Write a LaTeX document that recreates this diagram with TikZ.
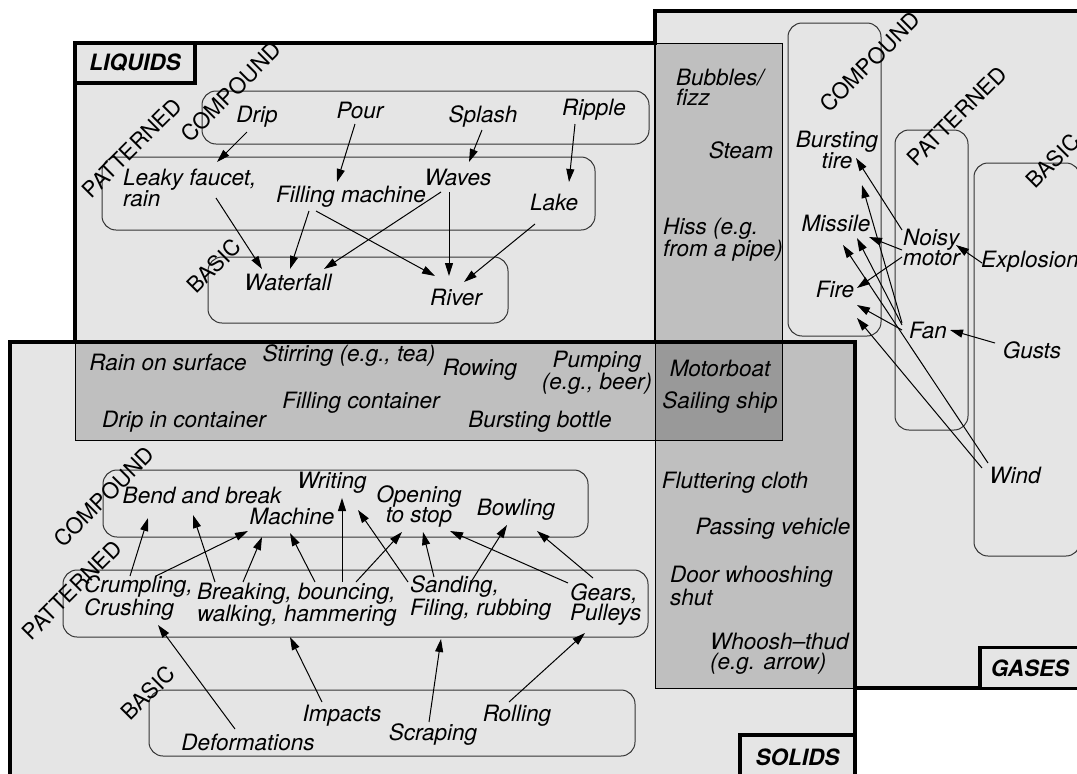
\documentclass[tikz,border=0pt]{standalone}
\usepackage{fontspec}
\setmainfont{TeX Gyre Heros}
\usetikzlibrary{arrows.meta}
\definecolor{areagray}{gray}{0.9}
\definecolor{bandgray}{gray}{0.75}
\definecolor{meetgray}{gray}{0.6}

\begin{document}
\begin{tikzpicture}[x=1pt,y=-1pt,
  item/.style={inner sep=0pt,font=\itshape\fontsize{22.5}{20}\selectfont},
  lvl/.style={inner sep=0pt,rotate=45,font=\fontsize{22}{22}\selectfont},
  grp/.style={draw=black!80,line width=1pt,rounded corners=14pt},
  realm/.style={draw,line width=3.5pt,fill=areagray,inner sep=0pt,font=\bfseries\itshape\fontsize{22.5}{22}\selectfont},
  arr/.style={-{Triangle[length=13pt,width=8pt]},line width=1pt},
  rim/.style={line width=4pt}]
\useasboundingbox (0,0) rectangle (1077,774);
\clip (0,0) rectangle (1077,774);

% areas
\fill[areagray] (655,11) rectangle (1090,688);
\fill[areagray] (75,43) rectangle (782,440);
\fill[areagray] (10,342) rectangle (855,790);
% overlaps
\filldraw[fill=bandgray,line width=1pt] (655,43) -- (782,43) -- (782,342) -- (855,342) -- (855,688) -- (655,688) -- cycle;
\filldraw[fill=bandgray,line width=1pt] (75,342) rectangle (782,440);
\filldraw[fill=meetgray,line width=1pt] (655,342) rectangle (782,440);
% outlines
\draw[rim] (655,43) -- (75,43) -- (75,342);
\draw[rim] (655,45) -- (655,11) -- (1090,11);
\draw[line width=2pt] (655,43) -- (655,342);
\draw[rim] (855,688) -- (1090,688);
\draw[rim] (10,790) -- (10,342) -- (855,342) -- (855,790);

% level boxes
\draw[grp] (202,91) rectangle (649,144);
\draw[grp] (102,157) rectangle (595,230);
\draw[grp] (208,257) rectangle (508,323);
\draw[grp] (788,23) rectangle (881,336);
\draw[grp] (895,130) rectangle (968,430);
\draw[grp] (974,163) rectangle (1080,556);
\draw[grp] (103,470) rectangle (588,537);
\draw[grp] (63,570) rectangle (648,637);
\draw[grp] (149,690) rectangle (635,756);

\node[lvl] (liqc) at (231,92) {COMPOUND};
\node[lvl] (liqp) at (132,148) {PATTERNED};
\node[lvl] (liqb) at (214,266) {BASIC};
\node[lvl] (gasc) at (870,62) {COMPOUND};
\node[lvl] (gasp) at (957,116) {PATTERNED};
\node[lvl] (gasb) at (1053,161) {BASIC};
\node[lvl] (solc) at (104,497) {COMPOUND};
\node[lvl] (solp) at (72,590) {PATTERNED};
\node[lvl] (solb) at (148,693) {BASIC};

% liquids
\node[item] (drip) at (257,117) {Drip};
\node[item] (pour) at (360,110) {Pour};
\node[item] (splash) at (483,116) {Splash};
\node[item] (ripple) at (594,110) {Ripple};
\node[item,align=left,anchor=west] (leaky) at (123,188) {Leaky faucet,\\rain};
\node[item] (fillm) at (351,197) {Filling machine};
\node[item] (waves) at (458,177) {Waves};
\node[item] (lake) at (554,202) {Lake};
\node[item] (fall) at (288,282) {Waterfall};
\node[item] (river) at (456,297) {River};

\draw[arr] ([shift={(-10,15)}]drip.center) -- ([shift={(94,-26)}]leaky.west);
\draw[arr] ([shift={(-5,14)}]pour.center) -- ([shift={(-14,-15)}]fillm.center);
\draw[arr] ([shift={(-1,14)}]splash.center) -- ([shift={(11,-15)}]waves.center);
\draw[arr] ([shift={(-19,14)}]ripple.center) -- ([shift={(15,-20)}]lake.center);
\draw[arr] ([shift={(93,10)}]leaky.west) -- ([shift={(-26,-13)}]fall.center);
\draw[arr] ([shift={(-42,14)}]fillm.center) -- ([shift={(2,-13)}]fall.center);
\draw[arr] ([shift={(-35,14)}]fillm.center) -- ([shift={(-21,-21)}]river.center);
\draw[arr] ([shift={(-17,15)}]waves.center) -- ([shift={(36,-13)}]fall.center);
\draw[arr] ([shift={(-9,15)}]waves.center) -- ([shift={(-7,-21)}]river.center);
\draw[arr] ([shift={(-19,22)}]lake.center) -- ([shift={(8,-15)}]river.center);

% gases
\node[item,align=center] (tire) at (837,150) {Bursting\\tire};
\node[item] (missile) at (836,223) {Missile};
\node[item] (fire) at (835,289) {Fire};
\node[item,align=left,anchor=west] (noisy) at (903,247) {Noisy\\motor};
\node[item] (explo) at (1030,262) {Explosion};
\node[item] (fan) at (928,330) {Fan};
\node[item] (gusts) at (1032,350) {Gusts};
\node[item] (wind) at (1015,475) {Wind};

\draw[arr] ([shift={(-1,-17)}]noisy.west) -- ([shift={(19,8)}]tire.center);
\draw[arr] ([shift={(-1,3)}]noisy.west) -- ([shift={(33,14)}]missile.center);
\draw[arr] ([shift={(-1,10)}]noisy.west) -- ([shift={(22,-1)}]fire.center);
\draw[arr] ([shift={(-48,1)}]explo.center) -- ([shift={(53,-2)}]noisy.west);
\draw[arr] ([shift={(-26,-7)}]fan.center) -- ([shift={(25,35)}]tire.center);
\draw[arr] ([shift={(-26,-5)}]fan.center) -- ([shift={(21,15)}]missile.center);
\draw[arr] ([shift={(-26,0)}]fan.center) -- ([shift={(22,16)}]fire.center);
\draw[arr] ([shift={(-37,-7)}]gusts.center) -- ([shift={(22,0)}]fan.center);
\draw[arr] ([shift={(-27,-12)}]wind.center) -- ([shift={(7,22)}]missile.center);
\draw[arr] ([shift={(-33,-7)}]wind.center) -- ([shift={(22,29)}]fire.center);

% solids
\node[item] (bend) at (202,495) {Bend and break};
\node[item] (writing) at (332,483) {Writing};
\node[item] (machine) at (292,516) {Machine};
\node[item,align=center] (opening) at (419,506) {Opening\\to stop};
\node[item] (bowling) at (516,510) {Bowling};
\node[item,align=left,anchor=west] (crush) at (84,598) {Crumpling,\\Crushing};
\node[item,align=left,anchor=west] (breaking) at (197,605) {Breaking, bouncing,\\walking, hammering};
\node[item,align=left,anchor=west] (sanding) at (410,598) {Sanding,\\Filing, rubbing};
\node[item,align=left,anchor=west] (gears) at (570,605) {Gears,\\Pulleys};
\node[item] (deform) at (248,742) {Deformations};
\node[item] (impacts) at (342,716) {Impacts};
\node[item] (scraping) at (433,735) {Scraping};
\node[item] (rolling) at (517,716) {Rolling};

\draw[arr] ([shift={(46,-22)}]crush.west) -- ([shift={(-54,23)}]bend.center);
\draw[arr] ([shift={(72,-22)}]crush.west) -- ([shift={(-44,15)}]machine.center);
\draw[arr] ([shift={(18,-23)}]breaking.west) -- ([shift={(-9,20)}]bend.center);
\draw[arr] ([shift={(46,-23)}]breaking.west) -- ([shift={(-30,21)}]machine.center);
\draw[arr] ([shift={(118,-23)}]breaking.west) -- ([shift={(-2,17)}]machine.center);
\draw[arr] ([shift={(145,-23)}]breaking.west) -- ([shift={(10,15)}]writing.center);
\draw[arr] ([shift={(159,-23)}]breaking.west) -- ([shift={(-17,26)}]opening.center);
\draw[arr] ([shift={(-2,-16)}]sanding.west) -- ([shift={(26,27)}]writing.center);
\draw[arr] ([shift={(24,-21)}]sanding.west) -- ([shift={(4,26)}]opening.center);
\draw[arr] ([shift={(61,-16)}]sanding.west) -- ([shift={(-9,15)}]bowling.center);
\draw[arr] ([shift={(-2,-22)}]gears.west) -- ([shift={(31,25)}]opening.center);
\draw[arr] ([shift={(23,-27)}]gears.west) -- ([shift={(21,21)}]bowling.center);
\draw[arr] ([shift={(-13,-13)}]deform.center) -- ([shift={(74,27)}]crush.west);
\draw[arr] ([shift={(-20,-14)}]impacts.center) -- ([shift={(93,32)}]breaking.west);
\draw[arr] ([shift={(-4,-13)}]scraping.center) -- ([shift={(31,41)}]sanding.west);
\draw[arr] ([shift={(-8,-14)}]rolling.center) -- ([shift={(15,28)}]gears.west);

% overlap sounds
\node[item,align=left,anchor=west] (bubbles) at (676,87) {Bubbles/\\fizz};
\node[item] (steam) at (741,150) {Steam};
\node[item,align=left,anchor=west] (hiss) at (663,240) {Hiss (e.g.\\from a pipe)};
\node[item] (rainsurf) at (168,362) {Rain on surface};
\node[item] (stir) at (349,356) {Stirring (e.g., tea)};
\node[item] (rowing) at (480,370) {Rowing};
\node[item,align=center] (pump) at (597,373) {Pumping\\(e.g., beer)};
\node[item] (fillc) at (361,403) {Filling container};
\node[item] (dripc) at (184,422) {Drip in container};
\node[item] (bottle) at (540,422) {Bursting bottle};
\node[item] (motorboat) at (720,368) {Motorboat};
\node[item] (sailing) at (720,403) {Sailing ship};
\node[item] (flutter) at (735,483) {Fluttering cloth};
\node[item] (passing) at (773,529) {Passing vehicle};
\node[item,align=left,anchor=west] (door) at (670,586) {Door whooshing\\shut};
\node[item,align=left,anchor=west] (whoosh) at (710,654) {Whoosh--thud\\(e.g. arrow)};

% tags
\node[realm,minimum width=120pt,minimum height=40pt] (liqtag) at (135,63) {LIQUIDS};
\node[realm,minimum width=115pt,minimum height=44pt] (soltag) at (797.5,757) {SOLIDS};
\node[realm,minimum width=100pt,minimum height=41pt] (gastag) at (1030,668) {GASES};
\end{tikzpicture}
\end{document}
